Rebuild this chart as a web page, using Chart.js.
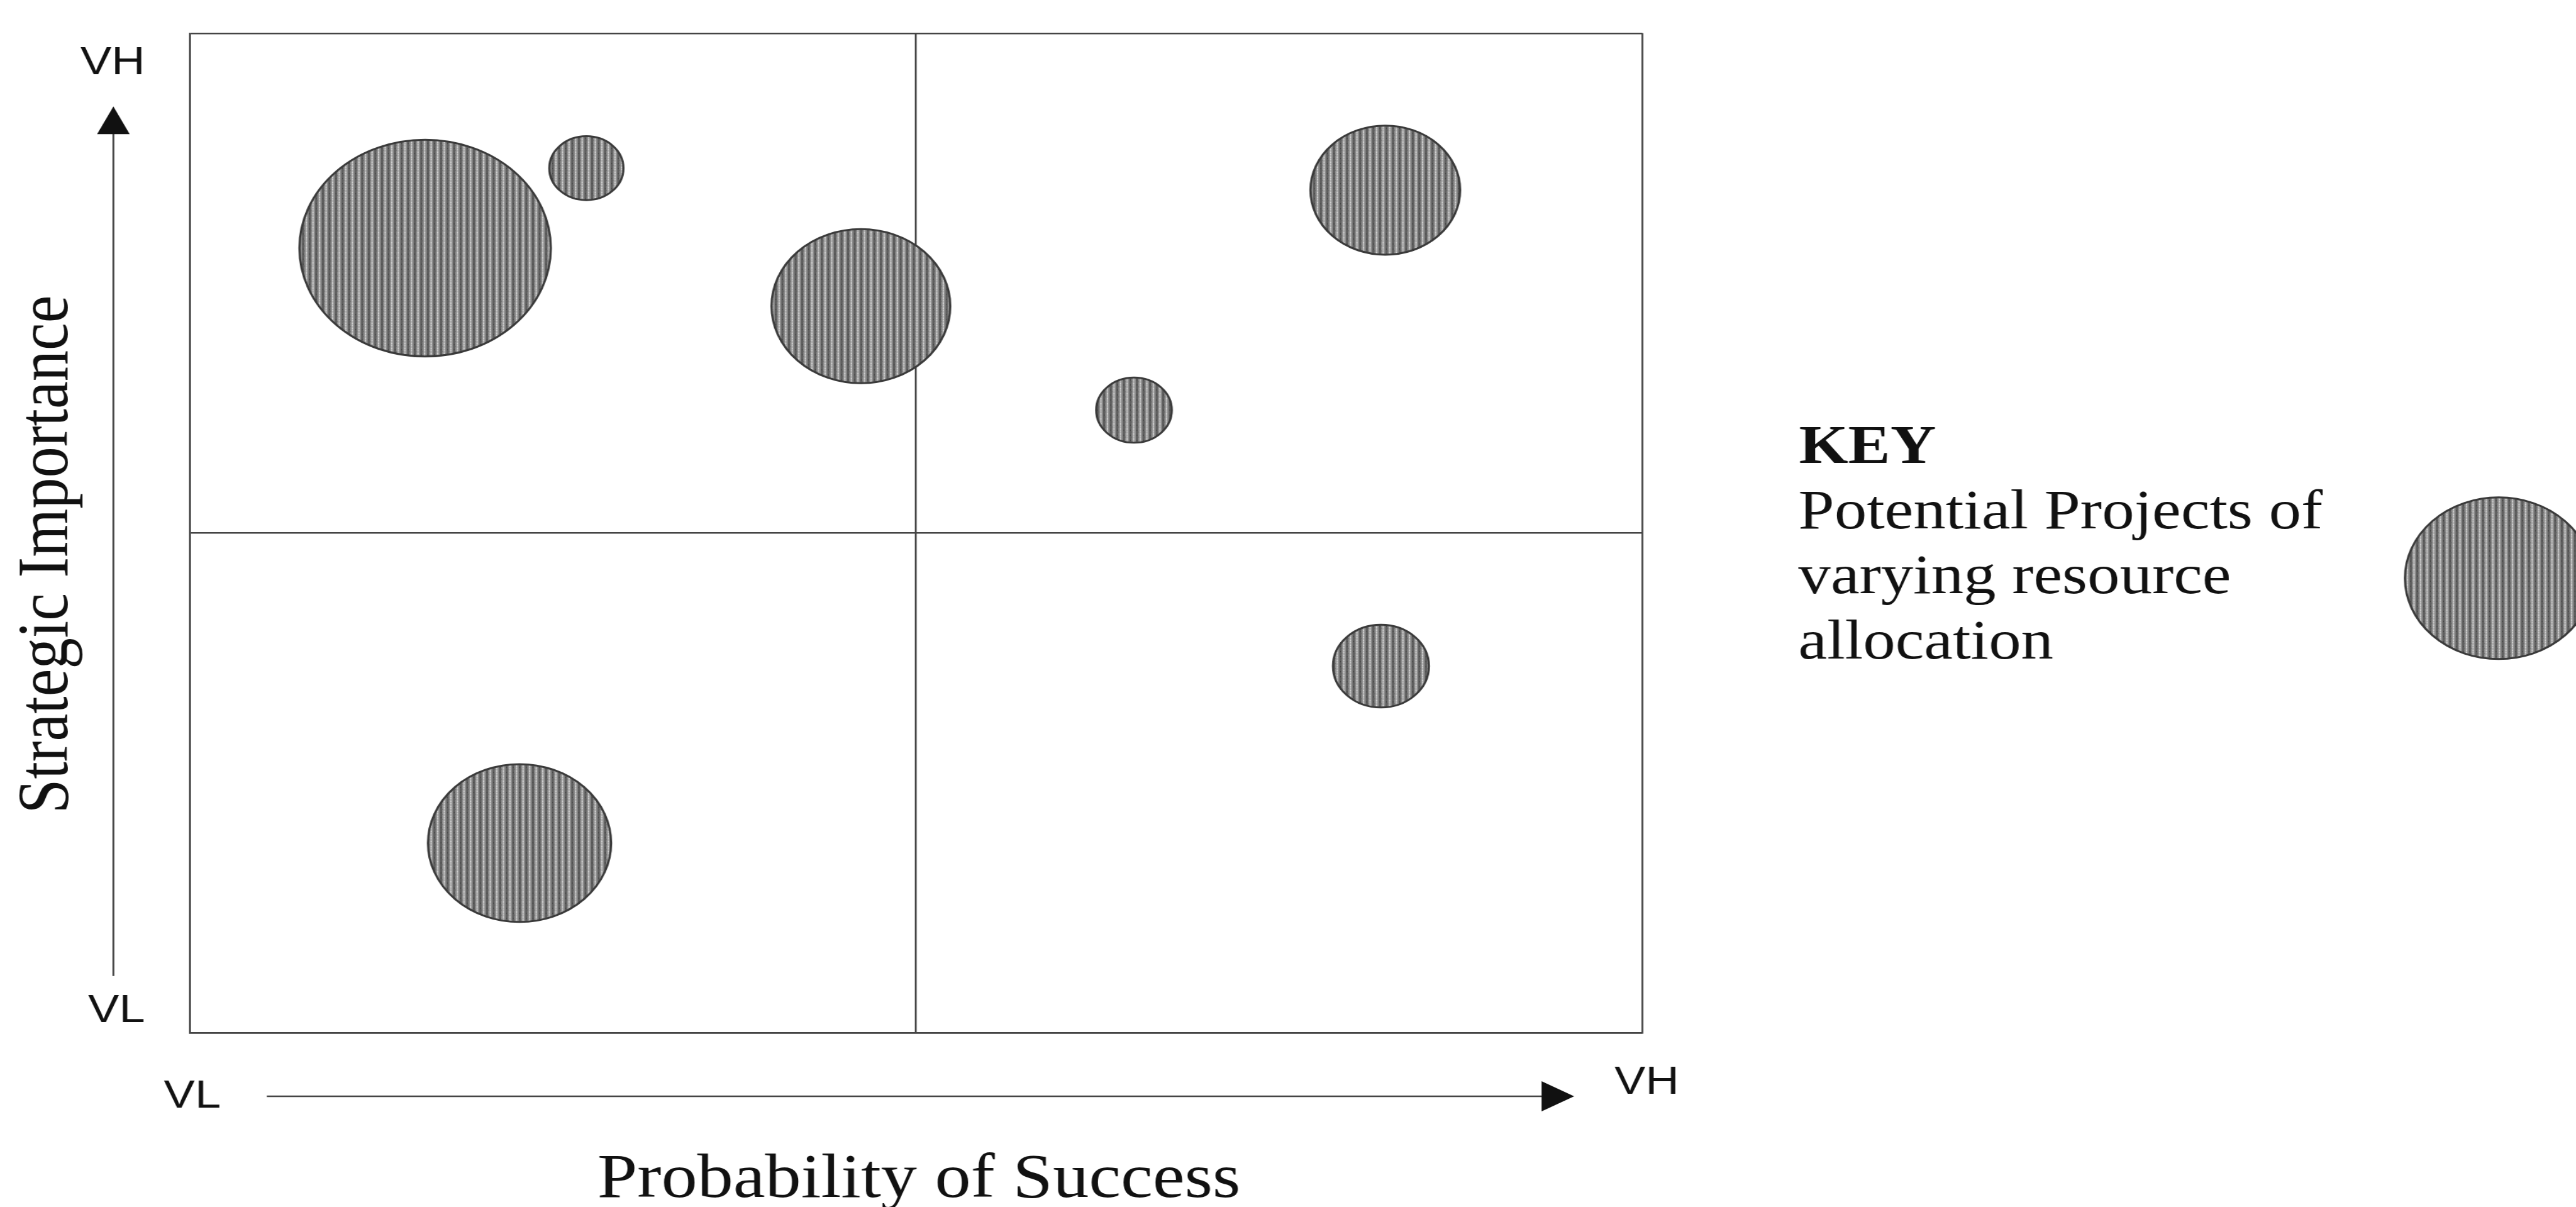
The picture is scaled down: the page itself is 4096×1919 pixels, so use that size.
<!DOCTYPE html>
<html>
<head>
<meta charset="utf-8">
<script src="https://cdn.jsdelivr.net/npm/chart.js@4.4.1/dist/chart.umd.min.js"></script>
<style>
html, body { margin: 0; padding: 0; background: #fff; overflow: hidden; }
#wrap { width: 4096px; height: 1919px; overflow: hidden; }
/* the source scan is stretched sideways, so the whole chart is too */
#c { transform: scaleX(1.16); transform-origin: 0 0; }
</style>
</head>
<body>
<div id="wrap"><canvas id="c" width="3531" height="1919"></canvas></div>
<script>
// project values (axes run 0 = VL .. 100 = VH)
const successScore    = [16.2, 27.3, 46.2, 82.3, 65.0, 82.0, 22.7];
const importanceScore = [78.5, 86.5, 72.7, 84.3, 62.3, 36.7, 19.0];
const resourceAlloc   = [17.3, 5.1, 12.3, 10.3, 5.2, 6.6, 12.6];
const keyResource = 12.9;

const xEnds = ['VL', 'VH'];
const yEnds = ['VL', 'VH'];
const xTitle = 'Probability of Success';
const yTitle = 'Strategic Importance';
const keyTitle = 'KEY';
const keyLines = ['Potential Projects of', 'varying resource', 'allocation'];

const K = 0.996;   // reference -> window
const SX = 1.16;   // horizontal stretch applied by css
const px = v => v * K / SX;
const py = v => v * K;
const RSCALE = 10 * K;

const canvas = document.getElementById('c');
const ctx = canvas.getContext('2d');

function makeHatch(c) {
    const p = document.createElement('canvas');
    p.width = 9; p.height = 8;
    const g = p.getContext('2d');
    g.fillStyle = '#8b8b8b'; g.fillRect(0, 0, 9, 8);
    g.fillStyle = '#5e5e5e'; g.fillRect(0, 0, 3, 8);
    g.fillStyle = '#b4b4b4'; g.fillRect(5, 0, 2, 8);
    g.fillStyle = '#cdcdcd'; g.fillRect(5, 1, 2, 2); g.fillRect(5, 5, 2, 1);
    g.fillStyle = '#474747'; g.fillRect(1, 3, 1, 2);
    g.fillStyle = '#777777'; g.fillRect(3, 6, 1, 2);
    return c.createPattern(p, 'repeat');
}
const hatch = makeHatch(ctx);

const decor = {
    id: 'decor',
    beforeDraw(chart) {
        const c = chart.ctx;
        c.save();
        c.fillStyle = '#ffffff';
        c.fillRect(0, 0, chart.width, chart.height);
        c.restore();
    },
    afterDraw(chart) {
        const c = chart.ctx;
        c.save();
        c.strokeStyle = '#444444';
        c.fillStyle = '#111111';
        c.lineWidth = 2.5;

        // vertical arrow
        c.beginPath(); c.moveTo(px(181), py(1558)); c.lineTo(px(181), py(205)); c.stroke();
        c.beginPath(); c.moveTo(px(181), py(170)); c.lineTo(px(207), py(214)); c.lineTo(px(155), py(214)); c.closePath(); c.fill();

        // horizontal arrow
        c.beginPath(); c.moveTo(px(426), py(1750)); c.lineTo(px(2470), py(1750)); c.stroke();
        c.beginPath(); c.moveTo(px(2513), py(1750)); c.lineTo(px(2461), py(1726)); c.lineTo(px(2461), py(1774)); c.closePath(); c.fill();

        c.textAlign = 'center';
        c.textBaseline = 'alphabetic';
        c.font = `${64 * K}px "Liberation Sans", Arial, sans-serif`;
        c.fillText(yEnds[1], px(180), py(118));
        c.fillText(yEnds[0], px(186), py(1632));
        c.fillText(xEnds[0], px(307), py(1768));
        c.fillText(xEnds[1], px(2629), py(1746));

        c.font = `${99 * K}px "Liberation Serif", "Times New Roman", serif`;
        c.fillText(xTitle, px(1467), py(1911));
        c.save();
        c.translate(px(107), py(885));
        c.rotate(-Math.PI / 2);
        c.fillText(yTitle, 0, 0);
        c.restore();

        // key
        c.textAlign = 'left';
        c.font = `bold ${87 * K}px "Liberation Serif", "Times New Roman", serif`;
        c.fillText(keyTitle, px(2872), py(739));
        c.font = `${89 * K}px "Liberation Serif", "Times New Roman", serif`;
        keyLines.forEach((t, i) => c.fillText(t, px(2871), py(843 + i * 104)));

        c.beginPath();
        c.arc(px(3989), py(923), keyResource * RSCALE, 0, Math.PI * 2);
        c.fillStyle = hatch;
        c.fill();
        c.strokeStyle = '#3a3a3a';
        c.lineWidth = 3;
        c.stroke();
        c.restore();
    }
};

const axisStyle = {
    type: 'linear',
    min: 0,
    max: 100,
    ticks: { display: false, stepSize: 50 },
    grid: { color: '#444444', lineWidth: 2.5, drawTicks: false },
    border: { display: true, color: '#444444', width: 2.5 },
    title: { display: false }
};

const W = canvas.width, H = canvas.height;

new Chart(ctx, {
    type: 'bubble',
    data: {
        datasets: [{
            label: 'Potential Projects',
            data: successScore.map((x, i) => ({ x: x, y: importanceScore[i], r: resourceAlloc[i] * RSCALE })),
            backgroundColor: hatch,
            borderColor: '#3a3a3a',
            borderWidth: 3
        }]
    },
    options: {
        responsive: false,
        animation: false,
        events: [],
        layout: {
            autoPadding: false,
            padding: {
                left: px(303),
                right: W - px(2622),
                top: py(53),
                bottom: H - py(1649)
            }
        },
        plugins: {
            legend: { display: false },
            tooltip: { enabled: false }
        },
        scales: {
            x: axisStyle,
            y: axisStyle
        }
    },
    plugins: [decor]
});
</script>
</body>
</html>
